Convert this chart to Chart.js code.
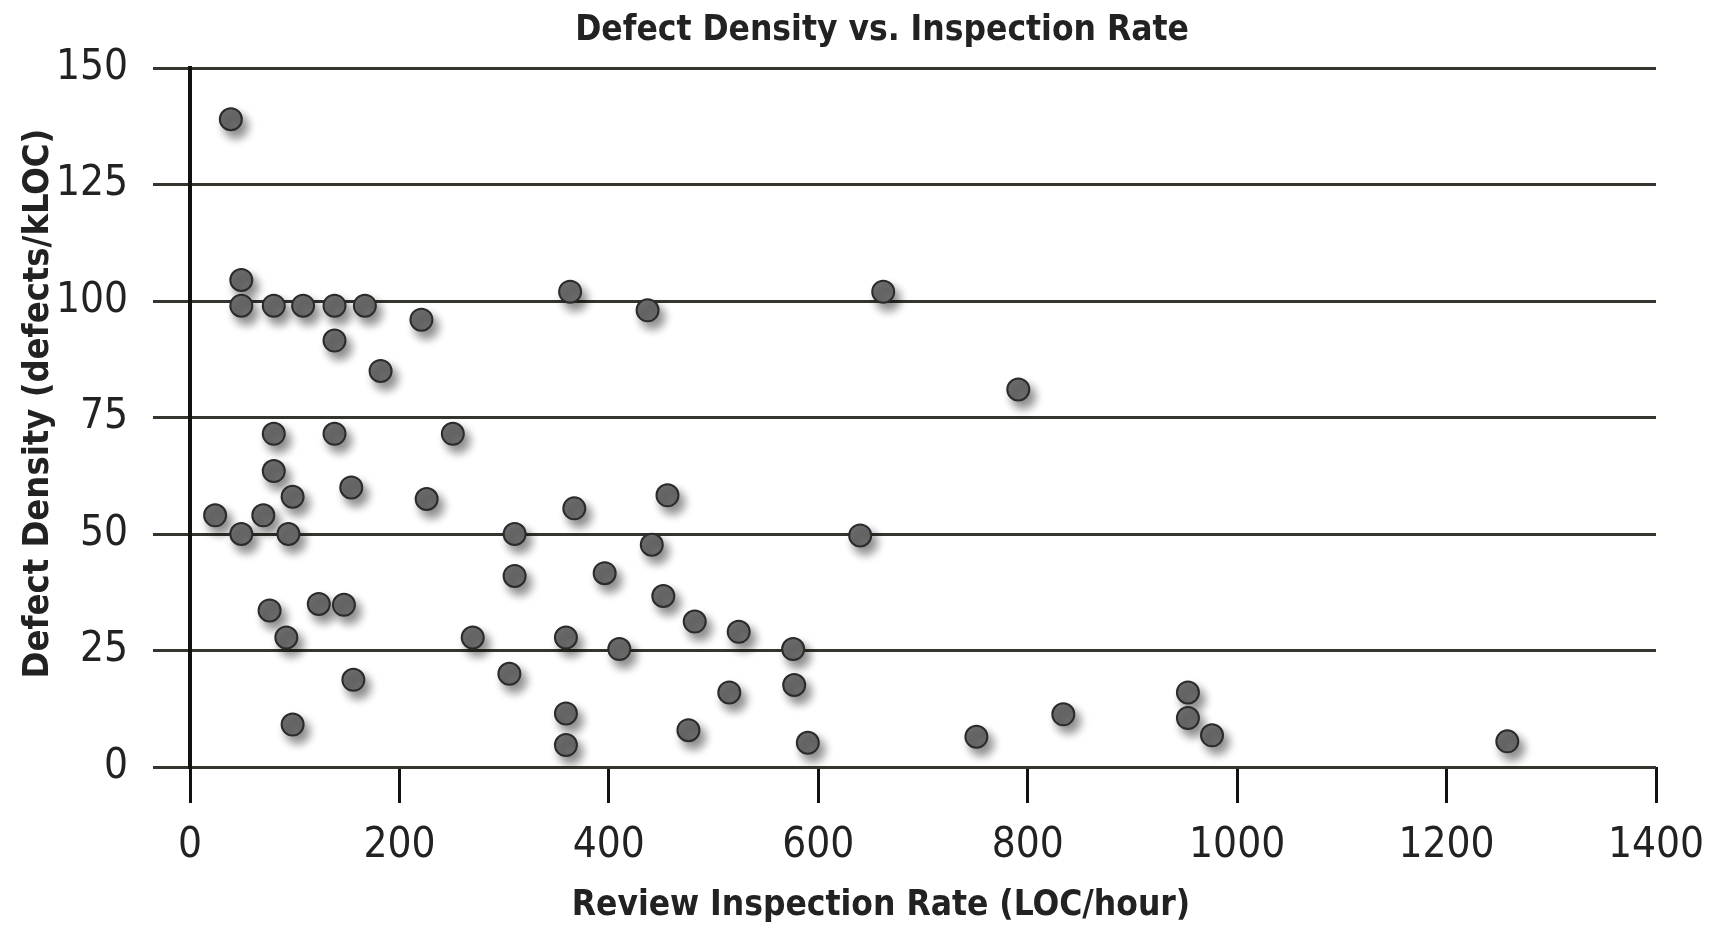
<!DOCTYPE html>
<html>
<head>
<meta charset="utf-8">
<script src="https://cdn.jsdelivr.net/npm/chart.js@4.4.1/dist/chart.umd.min.js"></script>
<style>
  html, body { margin: 0; padding: 0; background: #fff; }
  canvas { display: block; }
</style>
</head>
<body>
<canvas id="grafico" width="1710" height="931"></canvas>
<script>
// data
var inspectionRate = [39, 49, 49, 80, 108, 138, 167, 221, 138, 182, 363, 437, 662, 791,
    80, 138, 251, 80, 154, 98, 226, 367, 456, 24, 70, 49, 94, 310, 441, 310, 396, 452,
    76, 123, 147, 92, 270, 359, 410, 156, 305, 359, 359, 98, 640, 482, 524, 576, 515,
    577, 476, 590, 751, 834, 953, 953, 976, 1258];
var defectDensity = [139, 104.5, 99, 99, 99, 99, 99, 96, 91.5, 85, 102, 98, 102, 81,
    71.5, 71.5, 71.5, 63.5, 60, 58, 57.5, 55.5, 58.3, 54, 54, 50, 50, 50, 47.7, 41, 41.6, 36.7,
    33.6, 35, 34.8, 27.8, 27.8, 27.8, 25.3, 18.7, 20, 11.5, 4.7, 9.1, 49.7, 31.2, 29, 25.3, 16,
    17.6, 7.9, 5.2, 6.5, 11.3, 16, 10.5, 6.8, 5.5];
var xTicks = [0, 200, 400, 600, 800, 1000, 1200, 1400];
var yTicks = [0, 25, 50, 75, 100, 125, 150];

var FONT = "'Liberation Sans Narrow', 'DejaVu Sans Condensed', 'Liberation Sans', sans-serif";

var points = [];
for (var i = 0; i < inspectionRate.length; i++) {
    points.push({x: inspectionRate[i], y: defectDensity[i]});
}

// soft drop shadow under the dots, like the print
var dotShadow = {
    id: 'dotShadow',
    beforeDatasetsDraw: function(chart) {
        var c = chart.ctx;
        c.save();
        c.shadowColor = 'rgba(0,0,0,0.45)';
        c.shadowBlur = 10;
        c.shadowOffsetX = 5;
        c.shadowOffsetY = 7;
    },
    afterDatasetsDraw: function(chart) {
        chart.ctx.restore();
    }
};

// nudge a scale title along its axis without moving the axis itself
function nudgeTitle(scale, key1, key2, d1, d2) {
    if (scale._nudged) return;
    scale._nudged = true;
    var orig = scale.drawTitle;
    scale.drawTitle = function() {
        var a = this[key1], b = this[key2];
        this[key1] = a + d1;
        this[key2] = b + d2;
        orig.apply(this, arguments);
        this[key1] = a;
        this[key2] = b;
    };
}

// the printed titles are not centred on the plot
var titleShift = {
    id: 'titleShift',
    afterLayout: function(chart) {
        if (chart.titleBlock) {
            chart.titleBlock.left = 54;
            chart.titleBlock.right = chart.width;
        }
        nudgeTitle(chart.scales.x, 'left', 'right', -84, 0);
        nudgeTitle(chart.scales.y, 'top', 'bottom', 0, -28);
    }
};

var ctx = document.getElementById("grafico");
var myChart = new Chart(ctx, {
    type: 'scatter',
    data: {
        datasets: [{
            data: points,
            backgroundColor: '#6d6d6d',
            borderColor: '#2b2b2b',
            borderWidth: 2,
            pointRadius: 11,
            pointHoverRadius: 11
        }]
    },
    plugins: [dotShadow, titleShift],
    options: {
        responsive: false,
        animation: false,
        layout: { padding: { left: 0, right: 54, top: 0, bottom: 0 } },
        plugins: {
            legend: { display: false },
            tooltip: { enabled: false },
            title: {
                display: true,
                text: 'Defect Density vs. Inspection Rate',
                color: '#222',
                font: { family: FONT, size: 35, weight: 'bold' },
                padding: { top: 10, bottom: 16 }
            }
        },
        scales: {
            x: {
                type: 'linear',
                min: 0,
                max: 1400,
                afterFit: function(s) { s.height = 164; s.paddingLeft = 0; s.paddingRight = 0; },
                afterBuildTicks: function(s) { s.ticks = xTicks.map(function(v) { return {value: v}; }); },
                grid: { drawOnChartArea: false, drawTicks: true, tickLength: 36, color: '#111', lineWidth: 3 },
                border: { display: false },
                ticks: {
                    color: '#222', padding: 18, maxRotation: 0,
                    font: { family: FONT, size: 42 },
                    callback: function(v) { return String(v); }
                },
                title: {
                    display: true,
                    text: 'Review Inspection Rate (LOC/hour)',
                    color: '#222',
                    font: { family: FONT, size: 35, weight: 'bold' },
                    padding: { top: 0, bottom: 4 }
                }
            },
            y: {
                type: 'linear',
                min: 0,
                max: 150,
                afterFit: function(s) { s.width = 190; },
                afterBuildTicks: function(s) { s.ticks = yTicks.map(function(v) { return {value: v}; }); },
                grid: { color: '#35352d', lineWidth: 3, tickLength: 37 },
                border: { display: true, color: '#111', width: 4 },
                ticks: { color: '#222', padding: 25, font: { family: FONT, size: 42 } },
                title: {
                    display: true,
                    text: 'Defect Density (defects/kLOC)',
                    color: '#222',
                    font: { family: FONT, size: 36, weight: 'bold' },
                    padding: { top: 17, bottom: 0 }
                }
            }
        }
    }
});
</script>
</body>
</html>
